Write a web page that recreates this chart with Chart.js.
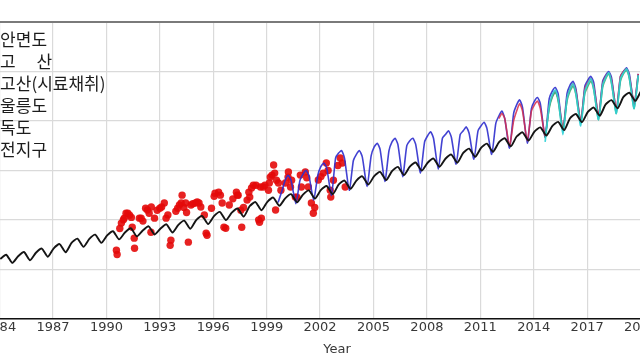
<!DOCTYPE html>
<html><head><meta charset="utf-8">
<script src="https://cdn.jsdelivr.net/npm/chart.js@4.4.0/dist/chart.umd.min.js"></script>
<style>
html,body{margin:0;padding:0;background:#fff;overflow:hidden;width:640px;height:360px;}
#wrap{position:absolute;left:-36px;top:0;width:800px;height:360px;}
</style></head><body>
<div id="wrap"><canvas id="c"></canvas></div>
<script>
// ---------- data ----------
const tickYears = [1984,1987,1990,1993,1996,1999,2002,2005,2008,2011,2014,2017,2020];
const yTicks = [320,340,360,380,400,420,440];
const legendLabels = ['안면도','고\u3000 산','고산(시료채취)','울릉도','독도','전지구'];

// global mean (전지구), three readings per year: Jan, May, Sep
const globalYears = [1984,1985,1986,1987,1988,1989,1990,1991,1992,1993,1994,1995,1996,1997,1998,1999,2000,2001,2002,2003,2004,2005,2006,2007,2008,2009,2010,2011,2012,2013,2014,2015,2016,2017,2018,2019,2020];
const globalJan = [344.2,345.3,346.7,348.5,350.7,352.3,353.7,354.9,355.7,356.5,358.0,359.9,361.5,362.9,365.5,367.3,368.7,370.2,372.0,374.2,375.9,377.7,379.7,381.5,383.1,384.7,387.1,389.1,391.3,393.7,395.7,397.9,401.1,403.7,406.7,409.7,412.2];
const globalMay = [345.9,347.0,348.4,350.2,352.4,354.0,355.4,356.6,357.4,358.2,359.7,361.6,363.2,364.6,367.2,369.0,370.4,371.9,373.7,375.9,377.6,379.4,381.4,383.2,384.8,386.4,388.8,390.8,393.0,395.4,397.4,399.6,402.8,405.4,408.4,411.4,413.9];
const globalSep = [342.6,343.7,345.1,346.9,349.1,350.7,352.1,353.3,354.1,354.9,356.4,358.3,359.9,361.3,363.9,365.7,367.1,368.6,370.4,372.6,374.3,376.1,378.1,379.9,381.5,383.1,385.5,387.5,389.7,392.1,394.1,396.3,399.5,402.1,405.1,408.1,410.6];

// 안면도, readings per year: Jan, Mar, May, Aug, Nov
const anmyeonYears = [1999,2000,2001,2002,2003,2004,2005,2006,2007,2008,2009,2010,2011,2012,2013,2014,2015,2016,2017,2018,2019];
const anmyeonJan = [null,376,378.5,381.5,387,386.5,389.5,391.5,392,394,394.5,396,398,402,406.5,408,412,414.5,416.5,418.5,420];
const anmyeonMar = [null,378,380,383,388,388,391,393,393,395.6,396,397.6,399.5,404,408.5,409.5,413.5,416,418,420,421.5];
const anmyeonMay = [null,376,378,381,385,385.5,388.5,390.5,390.5,393,393.5,395,397,401,405.5,407,411,413,415.5,417.5,419];
const anmyeonAug = [367,366.5,368,370,372,373.5,375.5,377.5,379,380.5,382.5,384.5,386.5,389,391,393.5,396,399.5,401.5,404,406.5];
const anmyeonNov = [372,376,378,385,384,386,388,390,391.5,393,394.5,396,399,403,405,409,411,414,416,418,419];

// 고산
const gosanYears = [2012,2013,2014,2015,2016,2017,2018,2019];
const gosanJan = [401,404,406.5,410,413,415.5,418,420];
const gosanMar = [403,407,408,412,415,417,419.5,421];
const gosanMay = [401,404,405,409,412,414,416.5,418];
const gosanAug = [390,392,394,397,400,402.5,405,407];
const gosanNov = [400,404,406,409,413,415,418,419];

// 울릉도
const ulleungYears = [2014,2015,2016,2017,2018,2019];
const ulleungJan = [null,410.5,413,415,417.5,419.5];
const ulleungMar = [null,412.5,415,417,419.5,421];
const ulleungMay = [null,409,411,413,415.5,417.5];
const ulleungAug = [391.5,394.5,398,400.5,403,405];
const ulleungNov = [406,409,412,414.5,417,418.5];

// 독도
const dokdoYears = [2014,2015,2016,2017,2018,2019];
const dokdoJan = [null,409.5,412,414,417,419];
const dokdoMar = [null,411.5,414,416,419,420.5];
const dokdoMay = [null,408,410.5,412.5,415,417];
const dokdoAug = [393,396,399,400.5,403,405];
const dokdoNov = [405,408,411,413.5,416,418];

// 고산(시료채취) flask samples
const flaskTime = [1990.56,1990.60,1990.75,1990.84,1990.95,1991.00,1991.10,1991.20,1991.30,1991.40,1991.45,1991.56,1991.58,1991.85,1991.95,1992.05,1992.20,1992.30,1992.40,1992.50,1992.52,1992.70,1992.85,1993.00,1993.10,1993.25,1993.35,1993.45,1993.58,1993.62,1993.90,1994.00,1994.10,1994.20,1994.25,1994.35,1994.45,1994.50,1994.60,1994.75,1994.85,1995.00,1995.10,1995.20,1995.30,1995.50,1995.60,1995.65,1995.90,1996.05,1996.10,1996.30,1996.40,1996.50,1996.60,1996.70,1996.90,1997.10,1997.30,1997.35,1997.40,1997.55,1997.60,1997.70,1997.90,1998.00,1998.05,1998.15,1998.25,1998.40,1998.55,1998.60,1998.65,1998.70,1998.80,1998.90,1999.10,1999.15,1999.20,1999.30,1999.39,1999.45,1999.50,1999.55,1999.66,1999.80,2000.05,2000.20,2000.22,2000.34,2000.40,2000.61,2000.70,2000.89,2000.95,2001.17,2001.25,2001.34,2001.51,2001.62,2001.70,2001.90,2002.05,2002.18,2002.35,2002.45,2002.57,2002.60,2002.75,2003.00,2003.13,2003.25,2003.41];
const flaskPpm = [347.7,346.0,356.5,358.7,360.0,360.7,362.7,362.7,361.9,361.0,357.0,352.6,348.5,360.7,360.7,359.5,364.7,364.0,362.7,355.0,365.2,360.7,363.9,364.7,365.2,366.8,360.7,362.0,349.7,351.8,363.5,364.7,366.0,366.8,370.0,365.0,366.8,363.0,351.0,366.0,366.5,366.8,367.2,366.8,365.2,362.0,354.6,353.8,364.7,369.5,370.8,371.2,370.0,366.8,357.0,356.6,366.0,368.5,371.2,370.0,370.0,363.9,357.0,365.0,368.0,371.2,369.2,372.9,374.0,374.0,360.0,359.0,373.3,360.7,373.3,374.0,372.0,374.9,377.3,378.1,382.2,378.9,364.0,376.0,374.9,372.0,374.9,377.3,379.4,373.3,376.0,369.2,369.2,378.1,373.3,379.4,377.0,373.3,366.8,362.7,365.0,376.1,377.5,378.9,383.0,380.0,372.0,369.2,376.0,382.0,385.0,383.0,373.3];

// month positions within a year
const monthPos = {jan:0.04, mar:0.21, may:0.37, aug:0.64, sep:0.71, nov:0.87};

// ---------- build point tables ----------
function build(years, cols) {
  const pts = [];
  years.forEach((yr, i) => {
    cols.forEach(([pos, arr]) => {
      const v = arr[i];
      if (v !== null && v !== undefined) pts.push({x: yr + pos, y: v});
    });
  });
  return pts;
}
const globalPts = build(globalYears, [[monthPos.jan, globalJan],[monthPos.may, globalMay],[monthPos.sep, globalSep]]);
const fiveCols = (j,m,my,a,n) => [[monthPos.jan,j],[monthPos.mar,m],[monthPos.may,my],[monthPos.aug,a],[monthPos.nov,n]];
const anmyeonPts = build(anmyeonYears, fiveCols(anmyeonJan,anmyeonMar,anmyeonMay,anmyeonAug,anmyeonNov));
const gosanPts = build(gosanYears, fiveCols(gosanJan,gosanMar,gosanMay,gosanAug,gosanNov));
const ulleungPts = build(ulleungYears, fiveCols(ulleungJan,ulleungMar,ulleungMay,ulleungAug,ulleungNov));
const dokdoPts = build(dokdoYears, fiveCols(dokdoJan,dokdoMar,dokdoMay,dokdoAug,dokdoNov));
const flaskPts = flaskTime.map((t, i) => ({x: t, y: flaskPpm[i]}));

// ---------- legend text plugin ----------
const legendText = {
  id: 'legendText',
  afterDraw(chart) {
    const ctx = chart.ctx;
    const x0 = chart.scales.x.getPixelForValue(1984);
    const top = chart.chartArea.top;
    ctx.save();
    ctx.font = '17px "Noto Sans CJK KR", "Noto Sans", sans-serif';
    ctx.fillStyle = '#1c1c1c';
    ctx.textBaseline = 'middle';
    ctx.textAlign = 'left';
    legendLabels.forEach((t, i) => {
      ctx.fillText(t, x0 + 0.5, top + 18 + 22 * i);
    });
    ctx.restore();
  }
};

const lineDs = (label, data, color, width, order) => ({
  type: 'line', label, data, borderColor: color, borderWidth: width,
  pointRadius: 0, tension: 0.2, fill: false, order
});

const chart = new Chart(document.getElementById('c'), {
  data: {
    datasets: [
      lineDs('전지구', globalPts, '#151515', 1.9, 0),
      lineDs('울릉도', ulleungPts, 'rgba(45,210,215,0.9)', 1.7, 1),
      lineDs('독도', dokdoPts, 'rgba(50,160,85,0.8)', 1.5, 2),
      lineDs('고 산', gosanPts, 'rgba(215,45,75,0.85)', 1.6, 3),
      lineDs('안면도', anmyeonPts, 'rgba(45,45,205,0.9)', 1.6, 4),
      { type: 'scatter', label: '고산(시료채취)', data: flaskPts, showLine: false,
        pointRadius: 3.7, pointBackgroundColor: 'rgba(228,10,10,0.9)', pointBorderWidth: 0, order: 5 }
    ]
  },
  options: {
    animation: false, responsive: true, maintainAspectRatio: false,
    layout: { padding: { top: 22, right: 50, left: 0, bottom: 3 } },
    plugins: { legend: { display: false }, tooltip: { enabled: false } },
    scales: {
      x: {
        type: 'linear', min: 1982, max: 2023.9,
        afterBuildTicks: (axis) => { axis.ticks = tickYears.map(v => ({ value: v })); },
        ticks: { font: { family: 'DejaVu Sans', size: 13 }, color: '#383838', padding: 1,
                 maxRotation: 0, autoSkip: false, callback: (v) => String(v) },
        grid: { color: '#dadada', lineWidth: 1.2, drawTicks: false },
        border: { display: true, color: '#111', width: 1.5 },
        title: { display: true, text: 'Year', font: { family: 'DejaVu Sans', size: 13 }, color: '#383838',
                 padding: { top: 5, bottom: 0 } }
      },
      y: {
        min: 320, max: 440,
        afterBuildTicks: (axis) => { axis.ticks = yTicks.map(v => ({ value: v })); },
        ticks: { display: false },
        grid: { drawTicks: false,
                color: (c) => c.tick && c.tick.value === 440 ? '#7a7a7a' : '#dadada',
                lineWidth: (c) => c.tick && c.tick.value === 440 ? 2 : 1.2 },
        border: { display: false }
      }
    }
  },
  plugins: [legendText]
});

// align: year 1984 at the left edge of the page, plot top at y=22
const wrap = document.getElementById('wrap');
wrap.style.left = (-chart.scales.x.getPixelForValue(1984)) + 'px';
wrap.style.top = (22 - chart.chartArea.top) + 'px';
</script>
</body></html>
